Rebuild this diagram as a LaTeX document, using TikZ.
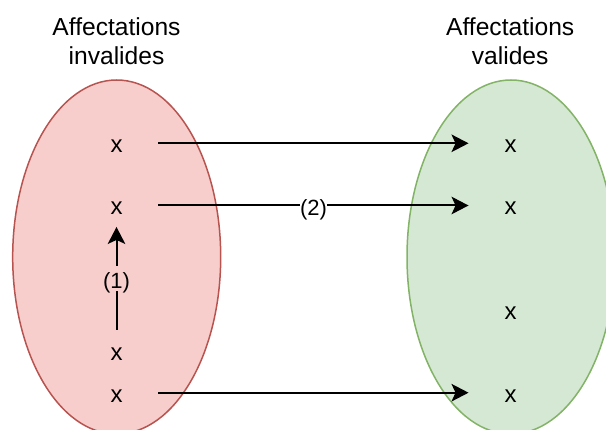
\documentclass[tikz,border=0pt]{standalone}
\usepackage{fontspec}
\setmainfont{Liberation Sans}
\usetikzlibrary{shapes.geometric,arrows.meta}
\definecolor{redfill}{HTML}{F8CECC}
\definecolor{redline}{HTML}{B85450}
\definecolor{greenfill}{HTML}{D5E8D4}
\definecolor{greenline}{HTML}{82B366}
\begin{document}
\begin{tikzpicture}[x=1pt,y=-1pt,
  setshape/.style={ellipse, line width=1.5pt, minimum width=208pt, minimum height=354pt, inner sep=0pt},
  titletext/.style={font=\fontsize{24.6}{29}\selectfont, align=center, inner sep=0pt},
  elem/.style={font=\fontsize{24}{29}\selectfont, minimum width=83.5pt, minimum height=42.5pt, inner sep=0pt, text height=22pt, text depth=3.2pt},
  arr/.style={line width=2pt, -{Stealth[length=17pt,width=17.5pt,inset=4pt]}},
  lbl/.style={font=\fontsize{22}{26}\selectfont, inner sep=0.5pt, text height=22pt, text depth=1.6pt}
]
\useasboundingbox (0,0) rectangle (606,430);
\node[setshape, draw=redline, fill=redfill] (inv) at (116.7,257) {};
\node[setshape, draw=greenline, fill=greenfill] (val) at (511,257) {};
\node[titletext] (tinv) at (116.5,40.75) {Affectations\\invalides};
\node[titletext] (tval) at (510.2,40.75) {Affectations\\valides};
\node[elem] (a1) at (116.5,143.3) {x};
\node[elem] (a2) at (116.5,205.5) {x};
\node[elem] (a3) at (116.5,351.3) {x};
\node[elem] (a4) at (116.5,392.7) {x};
\node[elem] (b1) at (510.5,143.3) {x};
\node[elem] (b2) at (510.5,205.5) {x};
\node[elem] (b3) at (510.5,309.7) {x};
\node[elem] (b4) at (510.5,392.7) {x};
\draw[arr] (a1.east) -- (b1.west);
\draw[arr] (a2.east) -- node[lbl, fill=white] {(2)} (b2.west);
\draw[arr] (a4.east) -- (b4.west);
\draw[arr] (a3.north) -- node[lbl, fill=redfill] {(1)} (a2.south);
\end{tikzpicture}
\end{document}
